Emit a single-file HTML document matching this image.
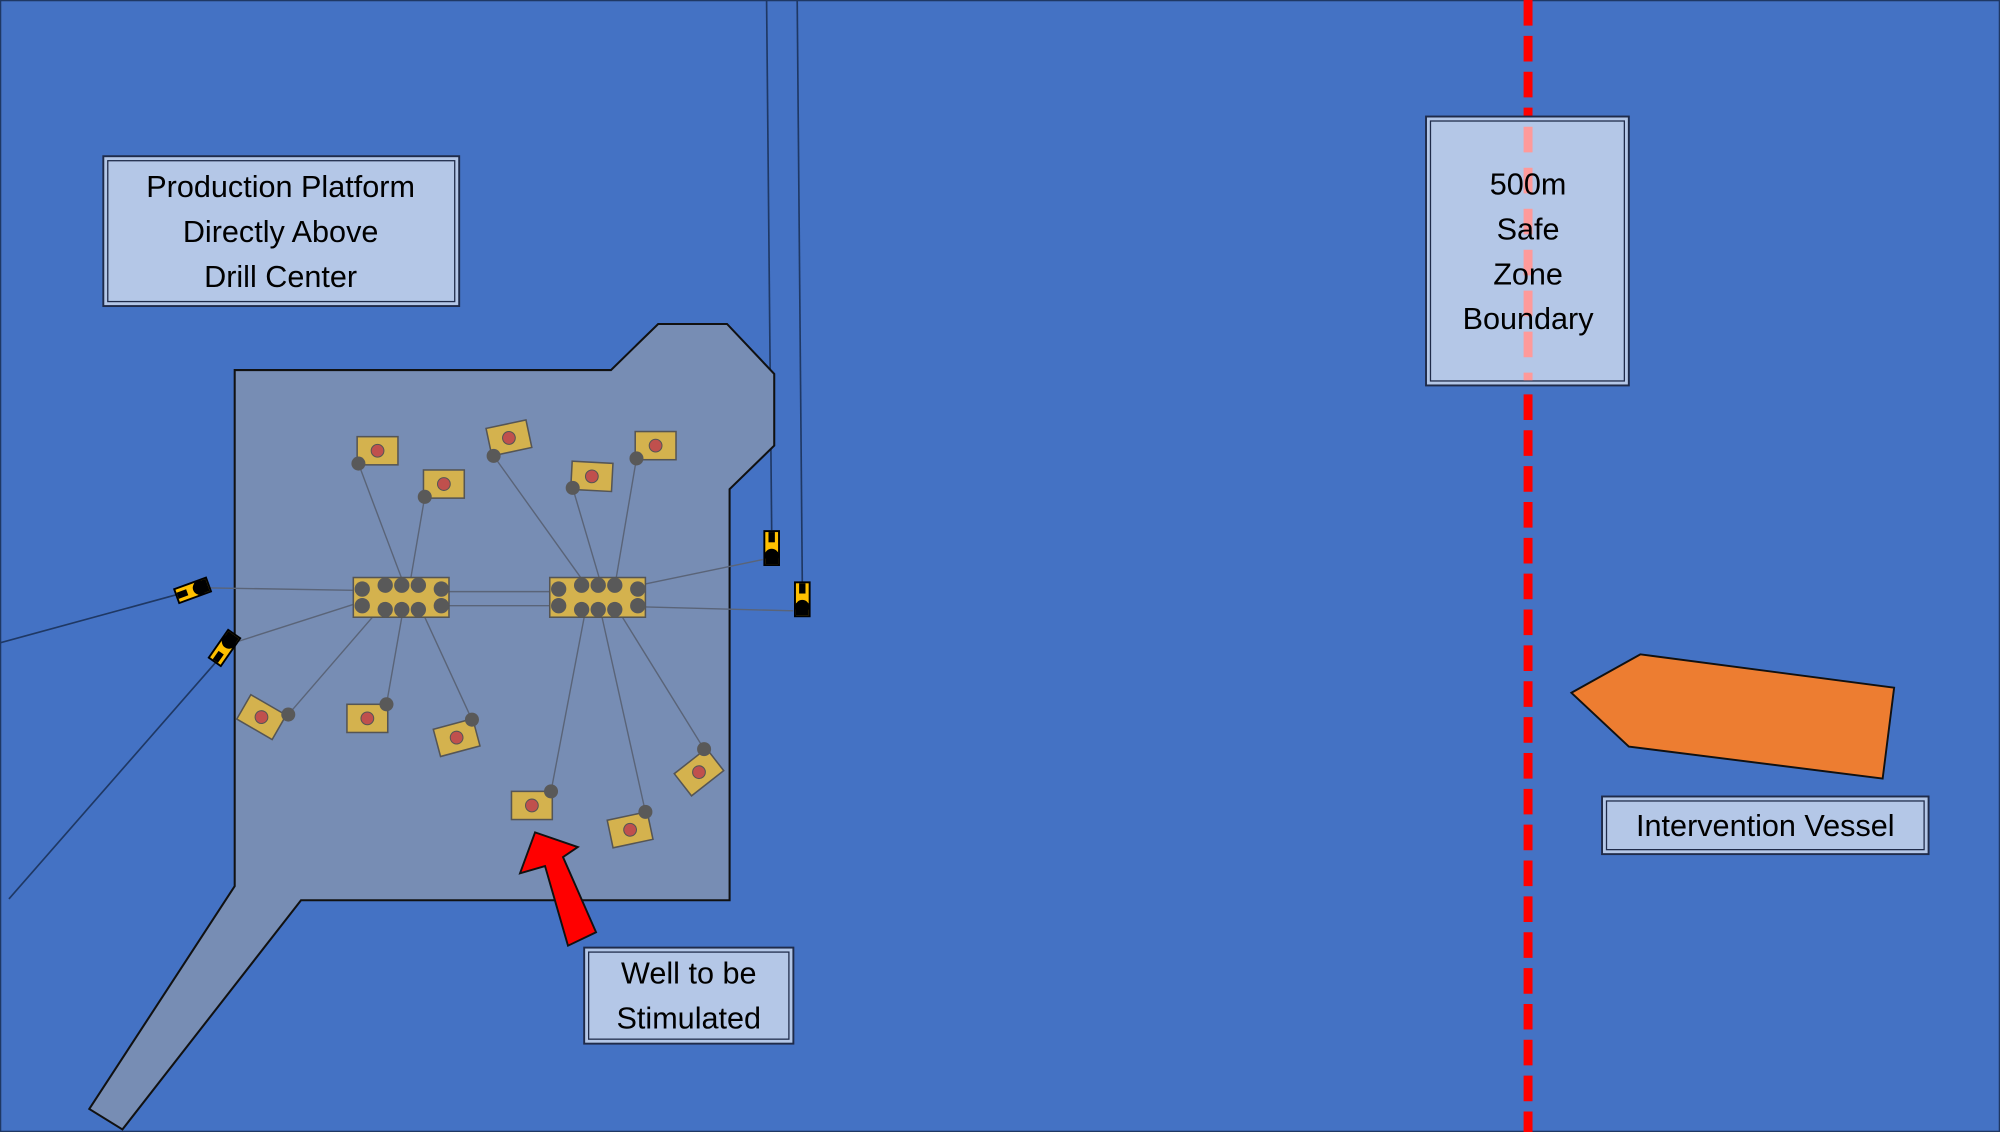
<!DOCTYPE html>
<html><head><meta charset="utf-8"><style>
html,body{margin:0;padding:0;background:#4472C4;}
svg{display:block;}
text{font-family:"Liberation Sans",sans-serif;fill:#000;}
</style></head><body>
<svg width="2000" height="1132" viewBox="0 0 1568 884" preserveAspectRatio="none" xmlns="http://www.w3.org/2000/svg">
<defs>
<g id="anc">
<rect x="-6.5" y="-14" width="13" height="28" fill="#000"/>
<rect x="-5" y="-12.5" width="10" height="25" fill="#FFC000"/>
<rect x="-2.5" y="-12.5" width="5" height="8" fill="#000"/>
<rect x="-5" y="3" width="10" height="9.5" fill="#000"/>
<circle cx="0" cy="6" r="5.5" fill="#000"/>
</g>
<g id="well">
<rect x="-16" y="-11" width="32" height="22" fill="#D4B24E" stroke="#555" stroke-width="1.2"/>
<circle cx="0" cy="0" r="5" fill="#C0504D" stroke="#555" stroke-width="0.8"/>
</g>
</defs>
<rect x="0" y="0" width="1568" height="884" fill="#4472C4" stroke="#1F3864" stroke-width="2"/>
<!-- outer lines -->
<g stroke="#1F3864" stroke-width="1.3" fill="none">
<line x1="0" y1="502" x2="151" y2="461"/>
<line x1="7" y1="702" x2="172" y2="514"/>
<line x1="601" y1="0" x2="605" y2="414"/>
<line x1="625" y1="0" x2="629" y2="455"/>
</g>
<!-- platform -->
<polygon points="184,289 479,289 516,253 570,253 607,292 607,348 572,382 572,703 236,703 96,882 70,866 184,692" fill="#778DB4" stroke="#111" stroke-width="1.6"/>
<!-- inner lines -->
<g stroke="#5A6478" stroke-width="1.1">
<line x1="160" y1="459" x2="277" y2="461"/>
<line x1="180" y1="503" x2="277" y2="472"/>
<line x1="598" y1="437" x2="506" y2="456"/>
<line x1="506" y1="474" x2="622" y2="477"/>
<line x1="352" y1="462" x2="431" y2="462"/>
<line x1="352" y1="473" x2="431" y2="473"/>
<line x1="281" y1="362" x2="315" y2="452"/>
<line x1="333" y1="388" x2="322" y2="452"/>
<line x1="387" y1="356" x2="456" y2="452"/>
<line x1="449" y1="381" x2="470" y2="452"/>
<line x1="499" y1="358" x2="483" y2="452"/>
<line x1="226" y1="558" x2="292" y2="482"/>
<line x1="303" y1="550" x2="315" y2="482"/>
<line x1="370" y1="562" x2="333" y2="482"/>
<line x1="432" y1="618" x2="458" y2="482"/>
<line x1="506" y1="634" x2="472" y2="482"/>
<line x1="552" y1="585" x2="488" y2="482"/>
</g>
<!-- manifolds -->
<g fill="#595959">
<rect x="277" y="451" width="75" height="31" fill="#D4B24E" stroke="#555" stroke-width="1.2"/>
<circle cx="284" cy="460" r="6"/><circle cx="284" cy="473" r="6"/>
<circle cx="346" cy="460" r="6"/><circle cx="346" cy="473" r="6"/>
<circle cx="302" cy="457" r="6"/><circle cx="315" cy="457" r="6"/><circle cx="328" cy="457" r="6"/>
<circle cx="302" cy="476" r="6"/><circle cx="315" cy="476" r="6"/><circle cx="328" cy="476" r="6"/>
<rect x="431" y="451" width="75" height="31" fill="#D4B24E" stroke="#555" stroke-width="1.2"/>
<circle cx="438" cy="460" r="6"/><circle cx="438" cy="473" r="6"/>
<circle cx="500" cy="460" r="6"/><circle cx="500" cy="473" r="6"/>
<circle cx="456" cy="457" r="6"/><circle cx="469" cy="457" r="6"/><circle cx="482" cy="457" r="6"/>
<circle cx="456" cy="476" r="6"/><circle cx="469" cy="476" r="6"/><circle cx="482" cy="476" r="6"/>
</g>
<!-- wells -->
<use href="#well" transform="translate(296,352)"/>
<use href="#well" transform="translate(348,378)"/>
<use href="#well" transform="translate(399,342) rotate(-12)"/>
<use href="#well" transform="translate(464,372) rotate(3)"/>
<use href="#well" transform="translate(514,348)"/>
<use href="#well" transform="translate(205,560) rotate(30)"/>
<use href="#well" transform="translate(288,561)"/>
<use href="#well" transform="translate(358,576) rotate(-15)"/>
<use href="#well" transform="translate(417,629)"/>
<use href="#well" transform="translate(494,648) rotate(-12)"/>
<use href="#well" transform="translate(548,603) rotate(-38)"/>
<g fill="#595959">
<circle cx="281" cy="362" r="5.5"/><circle cx="333" cy="388" r="5.5"/><circle cx="387" cy="356" r="5.5"/>
<circle cx="449" cy="381" r="5.5"/><circle cx="499" cy="358" r="5.5"/><circle cx="226" cy="558" r="5.5"/>
<circle cx="303" cy="550" r="5.5"/><circle cx="370" cy="562" r="5.5"/><circle cx="432" cy="618" r="5.5"/>
<circle cx="506" cy="634" r="5.5"/><circle cx="552" cy="585" r="5.5"/>
</g>
<!-- anchors -->
<use href="#anc" transform="translate(151,461) rotate(-110)"/>
<use href="#anc" transform="translate(176,506) rotate(-145)"/>
<use href="#anc" transform="translate(605,428)"/>
<use href="#anc" transform="translate(629,468)"/>
<!-- red arrow -->
<polygon points="419.5,650 453,661.5 441.4,669.3 467.3,728 445.3,738.5 427.3,676.3 407.7,682" fill="#FF0000" stroke="#111" stroke-width="1.5" stroke-linejoin="miter"/>
<!-- red boundary line -->
<line x1="1198" y1="0" x2="1198" y2="884" stroke="#FF0000" stroke-width="7" stroke-dasharray="20 8"/>
<!-- vessel -->
<polygon points="1232,541 1286,511 1485,537 1476,608 1277,583" fill="#ED7D31" stroke="#111" stroke-width="1.5"/>
<!-- label boxes -->
<g fill="#B4C7E7" stroke="#1F2B4A">
<rect x="81" y="122" width="279" height="117" stroke-width="1.5"/>
<rect x="84.5" y="125.5" width="272" height="110" stroke-width="1"/>
<rect x="1118" y="91" width="159" height="210" stroke-width="1.5"/>
<rect x="1121.5" y="94.5" width="152" height="203" stroke-width="1"/>
<rect x="1256" y="622" width="256" height="45" stroke-width="1.5"/>
<rect x="1259.5" y="625.5" width="249" height="38" stroke-width="1"/>
<rect x="458" y="740" width="164" height="75" stroke-width="1.5"/>
<rect x="461.5" y="743.5" width="157" height="68" stroke-width="1"/>
</g>
<line x1="1198" y1="95" x2="1198" y2="297" stroke="#FF9A9A" stroke-width="7" stroke-dasharray="0 4 20 8"/>
<g font-size="24" text-anchor="middle">
<text x="220" y="154">Production Platform</text>
<text x="220" y="189">Directly Above</text>
<text x="220" y="224">Drill Center</text>
<text x="1198" y="152">500m</text>
<text x="1198" y="187">Safe</text>
<text x="1198" y="222">Zone</text>
<text x="1198" y="257">Boundary</text>
<text x="1384" y="653">Intervention Vessel</text>
<text x="540" y="768">Well to be</text>
<text x="540" y="803">Stimulated</text>
</g>
</svg>
</body></html>
